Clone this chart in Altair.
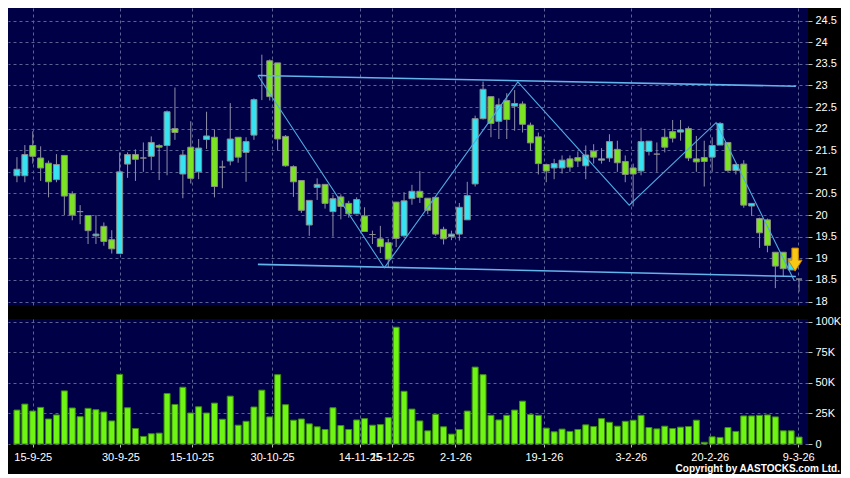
import altair as alt
import pandas as pd

# ---- price data ----
opens = [20.91, 20.91, 21.61, 21.32, 21.20, 20.82, 21.38, 20.49, 20.08, 19.99,
         19.52, 19.74, 19.43, 19.11, 21.18, 21.40, 21.32, 21.36, 21.61, 21.61,
         22.00, 20.95, 21.57, 21.00, 21.75, 21.80, 21.11, 21.25, 21.80, 21.45,
         21.85, 23.23, 23.57, 23.52, 21.82, 21.12, 20.80, 19.77, 20.64, 20.71,
         20.08, 20.42, 20.27, 20.03, 19.98, 19.55, 19.45, 19.36, 20.30, 19.52,
         20.38, 20.55, 20.39, 20.41, 19.67, 19.50, 19.56, 19.89, 20.72, 22.23,
         22.74, 22.17, 22.65, 22.52, 22.57, 22.08, 21.81, 21.17, 21.09, 21.09,
         21.30, 21.33, 21.14, 21.48, 21.27, 21.32, 21.52, 21.24, 21.09, 21.02,
         21.47, 21.41, 21.80, 21.93, 21.92, 22.00, 21.30, 21.33, 21.34, 21.62,
         21.68, 21.03, 21.18, 20.21, 19.92, 19.89, 19.14, 19.14, 18.73, 18.52]
highs = [21.34, 21.62, 21.94, 21.59, 21.26, 21.41, 21.38, 20.55, 20.23, 20.00,
         20.00, 19.83, 19.65, 21.45, 21.45, 21.52, 21.68, 21.82, 21.64, 22.42,
         22.95, 21.48, 22.17, 21.76, 22.39, 21.98, 21.26, 22.59, 21.80, 21.80,
         22.70, 23.71, 23.60, 23.52, 21.85, 21.15, 20.80, 20.34, 20.85, 20.71,
         20.47, 20.48, 20.33, 20.41, 20.18, 19.64, 19.75, 19.45, 20.30, 20.53,
         20.70, 21.02, 20.39, 20.43, 19.73, 19.64, 20.28, 20.77, 22.30, 23.09,
         22.74, 22.70, 22.82, 22.89, 22.63, 22.14, 21.91, 21.19, 21.30, 21.38,
         21.38, 21.47, 21.61, 21.64, 21.55, 21.87, 21.72, 21.38, 21.19, 22.02,
         21.71, 21.68, 22.00, 22.20, 22.20, 22.05, 21.83, 21.72, 21.80, 22.15,
         21.68, 21.19, 21.27, 20.27, 19.94, 19.92, 19.14, 19.14, 19.03, 18.52]
lows = [20.76, 20.76, 21.19, 20.79, 20.41, 20.76, 20.00, 19.88, 19.79, 19.33,
        19.33, 19.29, 19.11, 19.11, 20.86, 20.79, 21.00, 21.04, 20.81, 20.92,
        21.74, 20.39, 20.73, 20.83, 21.53, 20.41, 20.62, 21.15, 21.21, 20.77,
        21.74, 22.66, 22.65, 21.49, 21.12, 20.42, 20.05, 19.52, 20.35, 20.15,
        19.50, 19.90, 19.94, 20.02, 19.62, 19.33, 19.12, 18.80, 19.26, 19.50,
        20.24, 20.28, 20.02, 19.52, 19.32, 19.42, 19.41, 19.89, 20.66, 22.21,
        21.80, 21.76, 21.76, 21.95, 21.91, 21.49, 20.94, 20.76, 20.83, 20.96,
        21.00, 21.11, 20.83, 21.19, 21.19, 21.23, 21.00, 20.76, 20.20, 20.92,
        21.38, 21.00, 21.45, 21.68, 21.72, 21.25, 21.00, 20.66, 21.00, 21.62,
        21.00, 20.94, 20.17, 19.98, 19.24, 19.14, 18.31, 18.58, 18.73, 18.23]
closes = [21.06, 21.40, 21.36, 21.09, 20.77, 21.17, 20.44, 20.00, 20.08, 19.64,
          19.56, 19.39, 19.22, 21.00, 21.40, 21.29, 21.32, 21.68, 21.57, 22.39,
          21.91, 21.39, 20.85, 21.55, 21.83, 20.66, 21.11, 21.76, 21.34, 21.70,
          22.67, 23.23, 22.74, 21.76, 21.14, 20.77, 20.11, 20.34, 20.71, 20.27,
          20.38, 20.20, 20.03, 20.36, 19.62, 19.55, 19.27, 18.98, 19.46, 20.33,
          20.55, 20.41, 20.11, 19.56, 19.45, 19.56, 20.18, 20.45, 22.23, 22.91,
          22.12, 22.55, 22.21, 22.58, 22.10, 21.67, 21.19, 21.02, 21.19, 21.27,
          21.11, 21.25, 21.39, 21.34, 21.30, 21.70, 21.21, 20.94, 20.95, 21.70,
          21.71, 21.41, 21.57, 21.78, 21.97, 21.32, 21.23, 21.24, 21.61, 22.12,
          21.03, 21.17, 20.23, 20.27, 19.59, 19.30, 18.82, 18.76, 18.99, 18.52]

# ---- volume (thousands) ----
volumes_k = [27.8, 32.7, 27.0, 30.0, 20.5, 23.8, 43.5, 29.5, 22.4, 29.2,
             28.1, 26.2, 18.9, 57.0, 29.7, 12.7, 6.2, 8.4, 8.9, 41.4,
             32.4, 46.5, 25.4, 30.5, 25.4, 33.5, 20.3, 39.2, 15.4, 18.6,
             30.3, 44.1, 22.2, 56.8, 32.2, 19.5, 20.5, 16.5, 14.1, 11.9,
             29.7, 15.1, 11.9, 19.7, 20.8, 15.4, 15.9, 21.6, 95.7, 43.2,
             28.6, 18.9, 10.8, 24.3, 14.1, 8.1, 11.9, 27.0, 63.0, 56.8,
             23.5, 19.7, 23.5, 27.8, 35.1, 24.1, 23.5, 13.0, 10.0, 12.2,
             10.3, 11.9, 15.7, 14.3, 20.8, 17.8, 14.6, 18.6, 19.5, 23.5,
             13.5, 12.4, 14.6, 12.7, 13.8, 14.3, 19.5, 1.4, 5.9, 5.4,
             13.5, 10.3, 23.0, 23.0, 23.5, 23.8, 22.2, 10.8, 10.8, 5.7]

# ---- axis ticks ----
tick_pos = [2.0, 13.1, 22.1, 32.3, 43.4, 47.5, 55.5, 66.7, 77.7, 87.7, 98.9]
tick_labels = ["15-9-25", "30-9-25", "15-10-25", "30-10-25", "14-11-25", "15-12-25",
               "2-1-26", "19-1-26", "3-2-26", "20-2-26", "9-3-26"]
price_ticks = [18, 18.5, 19, 19.5, 20, 20.5, 21, 21.5, 22, 22.5, 23, 23.5, 24, 24.5]
vol_ticks = [0, 25, 50, 75, 100]

# ---- trend lines / annotations ----
channel_x1 = [30.5, 30.5]
channel_y1 = [23.23, 18.86]
channel_x2 = [98.6, 98.6]
channel_y2 = [22.98, 18.58]
zigzag_x = [30.5, 46.5, 63.4, 77.5, 88.5, 98.4]
zigzag_y = [23.23, 18.78, 23.08, 20.23, 22.14, 18.48]
arrow_x = [98.5]
arrow_y = [18.97]
copyright_text = ["Copyright by AASTOCKS.com Ltd."]

# ---- styling ----
UP = "#35E3F2"
DOWN = "#7BE321"
FLAT = "#9a9a9a"
VOL = "#6EF514"
NAVY = "#000046"
GRID = "#5a6494"
FONT = "Liberation Sans"

W = 800
H_PRICE = 297
H_VOL = 125

n = list(range(len(opens)))
dirs = ["up" if c > o else ("down" if c < o else "flat") for o, c in zip(opens, closes)]
candles = pd.DataFrame({"n": n, "open": opens, "high": highs, "low": lows,
                        "close": closes, "dir": dirs})
vol_df = pd.DataFrame({"n": n, "vol": volumes_k})
chan_df = pd.DataFrame({"n": channel_x1, "n2": channel_x2, "p": channel_y1, "p2": channel_y2})
zz_df = pd.DataFrame({"n": zigzag_x, "p": zigzag_y, "k": list(range(len(zigzag_x)))})
arrow_df = pd.DataFrame({"n": arrow_x, "p": arrow_y})
copy_df = pd.DataFrame({"t": copyright_text})

xscale = alt.Scale(domain=[-0.5, 99.5], nice=False, zero=False)
pscale = alt.Scale(domain=[17.92, 24.79], nice=False, zero=False)
vscale = alt.Scale(domain=[0, 102.4], nice=False, zero=False)

x_price_axis = alt.Axis(values=tick_pos, grid=True, labels=False, ticks=False,
                        domain=False, title=None, gridDash=[3, 3], gridColor=GRID)
p_axis = alt.Axis(orient="right", values=price_ticks, format="~g", grid=True,
                  gridDash=[3, 3], gridColor=GRID, domain=False, tickSize=4,
                  tickColor="#bbbbbb", labelPadding=3, title=None)

label_expr = ("[" + ",".join("'%s'" % s for s in tick_labels) + "][indexof(["
              + ",".join(str(v) for v in tick_pos) + "], datum.value)]")
x_vol_axis = alt.Axis(values=tick_pos, grid=True, gridDash=[3, 3], gridColor=GRID,
                      domain=False, ticks=True, tickSize=3, tickColor="#bbbbbb",
                      labelExpr=label_expr, labelOverlap=False, labelFlush=False,
                      labelPadding=4, title=None)
v_axis = alt.Axis(orient="right", values=vol_ticks, grid=True, gridDash=[3, 3],
                  gridColor=GRID, domain=False, tickSize=4, tickColor="#bbbbbb",
                  labelPadding=3, title=None,
                  labelExpr="datum.value == 0 ? '0' : datum.value + 'K'")

X = alt.X("n:Q", scale=xscale, axis=x_price_axis)

wicks = alt.Chart(candles).mark_rule(color="#8f8fa8", strokeWidth=1).encode(
    x=X,
    y=alt.Y("low:Q", scale=pscale, axis=p_axis),
    y2="high:Q",
)
bodies = alt.Chart(candles).mark_bar(size=6, stroke="#8a8a8a", strokeWidth=1).encode(
    x=X,
    y=alt.Y("open:Q", scale=pscale, axis=p_axis),
    y2="close:Q",
    color=alt.Color("dir:N", scale=alt.Scale(domain=["up", "down", "flat"],
                                             range=[UP, DOWN, FLAT]), legend=None),
)
channels = alt.Chart(chan_df).mark_rule(color="#62b4ea", strokeWidth=1.6).encode(
    x=X, x2="n2:Q",
    y=alt.Y("p:Q", scale=pscale, axis=p_axis), y2="p2:Q",
)
zigzag = alt.Chart(zz_df).mark_line(color="#4fa9e0", strokeWidth=1.1).encode(
    x=X,
    y=alt.Y("p:Q", scale=pscale, axis=p_axis),
    order="k:Q",
)
arrow_path = "M-0.28,-1L0.28,-1L0.28,0.05L0.6,0.05L0,1L-0.6,0.05L-0.28,0.05Z"
arrow = alt.Chart(arrow_df).mark_point(shape=arrow_path, size=530, filled=True,
                                       fill="#F8C814", stroke="#c88400",
                                       strokeWidth=1, opacity=1).encode(
    x=X,
    y=alt.Y("p:Q", scale=pscale, axis=p_axis),
)

price = alt.layer(wicks, bodies, channels, zigzag, arrow).properties(
    width=W, height=H_PRICE)

vbars = alt.Chart(vol_df).mark_bar(size=6, color=VOL, stroke="#3e8a14",
                                   strokeWidth=1).encode(
    x=alt.X("n:Q", scale=xscale, axis=x_vol_axis),
    y=alt.Y("vol:Q", scale=vscale, axis=v_axis),
)
copyright = alt.Chart(copy_df).mark_text(align="right", baseline="alphabetic",
                                         font=FONT, fontSize=10, fontWeight="bold",
                                         color="white").encode(
    x=alt.value(W + 32),
    y=alt.value(H_VOL + 28),
    text="t:N",
)
volume = alt.layer(vbars, copyright).properties(width=W, height=H_VOL)

chart = alt.vconcat(price, volume, spacing=8, padding=0, background="black").configure_view(
    fill=NAVY, stroke=NAVY, strokeWidth=0
).configure_axis(
    labelFont=FONT, labelFontSize=11, labelColor="white",
)

chart.save("out.html", embed_options={"renderer": "svg", "actions": False})
